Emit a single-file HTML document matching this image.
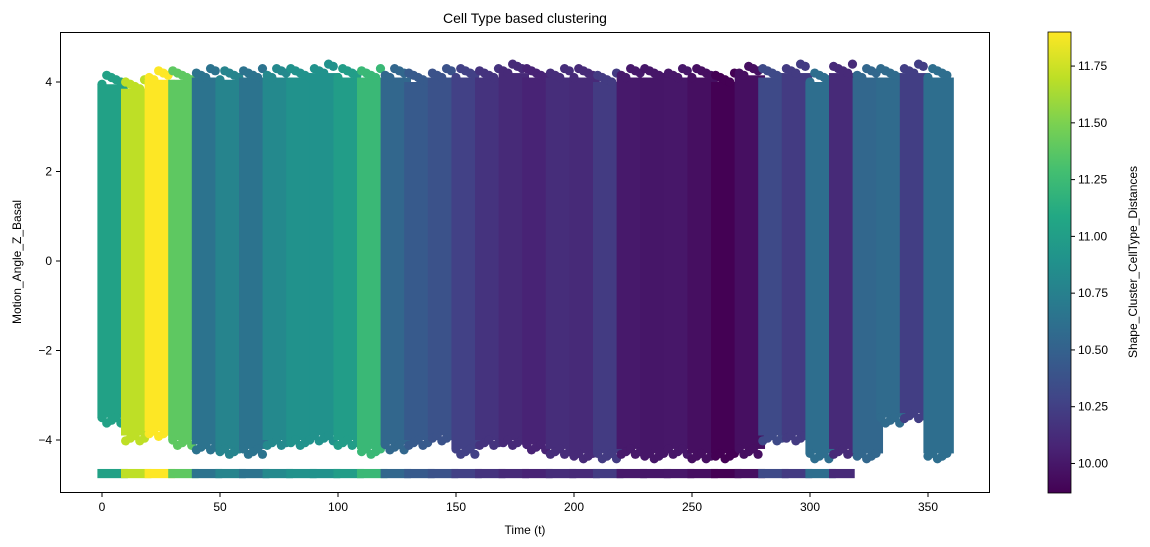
<!DOCTYPE html>
<html><head><meta charset="utf-8"><style>
body{margin:0;background:#fff;}
svg{display:block;font-family:"Liberation Sans","DejaVu Sans",sans-serif;}
</style></head><body>
<svg id="chart" width="1150" height="547" viewBox="0 0 1150 547" xmlns="http://www.w3.org/2000/svg">
<defs>
<linearGradient id="viridis" x1="0" y1="1" x2="0" y2="0">
<stop offset="0" stop-color="#440154"/><stop offset="0.1" stop-color="#482475"/><stop offset="0.2" stop-color="#414487"/><stop offset="0.3" stop-color="#355f8d"/><stop offset="0.4" stop-color="#2a788e"/><stop offset="0.5" stop-color="#21918c"/><stop offset="0.6" stop-color="#22a884"/><stop offset="0.7" stop-color="#44bf70"/><stop offset="0.8" stop-color="#7ad151"/><stop offset="0.9" stop-color="#bddf26"/><stop offset="1" stop-color="#fde725"/>
</linearGradient>
<clipPath id="plotclip"><rect x="60" y="32" width="930" height="461"/></clipPath>
</defs>
<text x="525" y="23" text-anchor="middle" font-size="14">Cell Type based clustering</text>
<g id="marks" clip-path="url(#plotclip)"></g>
<rect x="60.5" y="32.5" width="929" height="460" fill="none" stroke="#000" stroke-width="1"/>
<g id="xaxis"></g><g id="yaxis"></g>
<text x="525" y="534" text-anchor="middle" font-size="12">Time (t)</text>
<text transform="translate(21,262) rotate(-90)" text-anchor="middle" font-size="12">Motion_Angle_Z_Basal</text>
<rect x="1048" y="32" width="23" height="461" fill="url(#viridis)" stroke="#000" stroke-width="0.8"/>
<g id="cbaxis"></g>
<text transform="translate(1137,262) rotate(-90)" text-anchor="middle" font-size="12">Shape_Cluster_CellType_Distances</text>
</svg>
<script>
const bandStarts=[0,10,20,30,40,50,60,70,80,90,100,110,120,130,140,150,160,170,180,190,200,210,220,230,240,250,260,270,280,290,300,310,320,330,340,350];
const bandValues=[11.03,11.70,11.90,11.39,10.64,10.78,10.64,10.82,10.89,10.89,10.99,11.23,10.54,10.44,10.38,10.26,10.17,10.11,10.07,10.13,10.11,10.22,10.01,9.99,10.00,9.95,9.87,9.95,10.32,10.22,10.60,10.11,10.54,10.58,10.24,10.60];
const bandTops=[3.95,3.85,4.05,4.05,4.1,4.05,4.1,4.1,4.1,4.2,4.1,4.1,4.1,4.0,4.1,4.1,4.1,4.2,4.1,4.1,4.1,4.0,4.1,4.1,4.1,4.1,4.0,4.15,4.1,4.2,4.0,4.2,4.1,4.1,4.2,4.1];
const bandBottoms=[-3.5,-3.9,-3.8,-4.0,-4.1,-4.2,-4.2,-4.0,-4.0,-3.9,-4.0,-4.2,-4.1,-4.0,-3.9,-4.2,-4.0,-4.0,-4.1,-4.2,-4.3,-4.3,-4.2,-4.3,-4.2,-4.3,-4.3,-4.2,-3.9,-3.9,-4.3,-4.2,-4.3,-3.5,-3.4,-4.3];
const floorValue=-4.75;
const floorMaxT=317;
const xTicks=[0,50,100,150,200,250,300,350];
const yTicks=[-4,-2,0,2,4];
const cbTicks=[10.00,10.25,10.50,10.75,11.00,11.25,11.50,11.75];
const vmin=9.87,vmax=11.9;
const NS="http://www.w3.org/2000/svg";
function xs(t){return 102+t*826/350;}
function ys(v){return 261-v*44.75;}
function cby(v){return 32+(vmax-v)/(vmax-vmin)*461;}
const stops=[[68,1,84],[72,36,117],[65,68,135],[53,95,141],[42,120,142],[33,145,140],[34,168,132],[68,191,112],[122,209,81],[189,223,38],[253,231,37]];
function viridis(v){let f=Math.max(0,Math.min(1,(v-vmin)/(vmax-vmin)))*10;let i=Math.min(9,Math.floor(f)),r=f-i;const a=stops[i],b=stops[i+1];return 'rgb('+a.map((c,k)=>Math.round(c+(b[k]-c)*r)).join(',')+')';}
function mk(tag,attrs,parent){const e=document.createElementNS(NS,tag);for(const k in attrs)e.setAttribute(k,attrs[k]);parent.appendChild(e);return e;}
const marks=document.getElementById('marks');
const R=4.6;
bandStarts.forEach((t0,k)=>{
  const col=viridis(bandValues[k]);
  const g=mk('g',{},marks);
  
  
  const x0=xs(t0)-R, x1=xs(t0+9)+R;
  const yt=ys(bandTops[k]), yb=ys(bandBottoms[k]);
  mk('rect',{x:x0,y:yt,width:x1-x0,height:yb-yt,fill:col},g);
  for(let i=0;i<10;i+=2){
    const cx=xs(t0+i);
    const dt=((i*7+k*3)%5)*0.05;
    const db=((i*5+k*4)%6)*0.03;
    mk('circle',{cx:cx,cy:ys(bandTops[k]+dt),r:R,fill:col},g);
    mk('circle',{cx:cx,cy:ys(bandBottoms[k]-db),r:R,fill:col},g);
  }
  if(t0<=floorMaxT){
    const fe=Math.min(t0+9,floorMaxT);
    mk('rect',{x:x0,y:ys(floorValue)-R,width:xs(fe)+R-x0,height:2*R,fill:col},g);
  }
});
const xa=document.getElementById('xaxis');
xTicks.forEach(t=>{
  const l=mk('line',{x1:xs(t),x2:xs(t),y1:493,y2:497,stroke:'#000'},xa);
  
  
  const tx=mk('text',{x:xs(t),y:511,'text-anchor':'middle','font-size':'12'},xa);
  tx.textContent=t;
  
  
});
const ya=document.getElementById('yaxis');
yTicks.forEach(v=>{
  const l=mk('line',{x1:56,x2:60,y1:ys(v),y2:ys(v),stroke:'#000'},ya);
  
  
  const tx=mk('text',{x:52,y:ys(v)+4,'text-anchor':'end','font-size':'12'},ya);
  tx.textContent=(v<0?'\u2212'+(-v):v);
  
  
});
const ca=document.getElementById('cbaxis');
cbTicks.forEach(v=>{
  const l=mk('line',{x1:1071,x2:1075,y1:cby(v),y2:cby(v),stroke:'#000'},ca);
  
  
  const tx=mk('text',{x:1078,y:cby(v)+4,'font-size':'12'},ca);
  tx.textContent=v.toFixed(2);
  
  
});
</script>
</body></html>
